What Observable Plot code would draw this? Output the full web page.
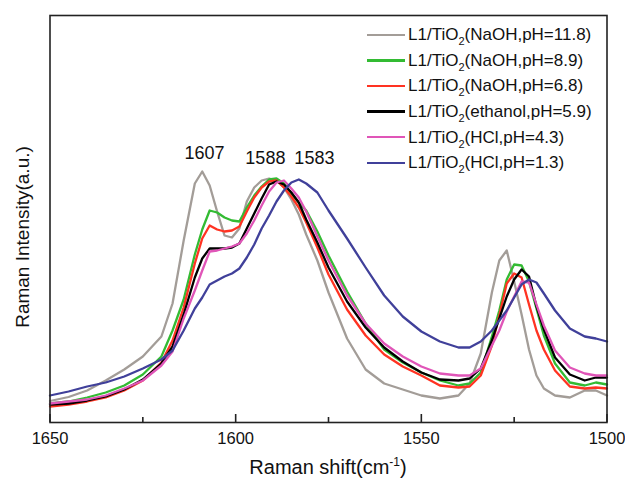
<!DOCTYPE html>
<html><head><meta charset="utf-8">
<script src="https://cdn.jsdelivr.net/npm/d3@7"></script>
<script src="https://cdn.jsdelivr.net/npm/@observablehq/plot@0.6"></script>
<style>
body{margin:0;background:#fff;font-family:"Liberation Sans",Arial,sans-serif;}
#wrap{position:relative;width:625px;height:483px;}
.legend{position:absolute;left:367px;top:22px;font-size:17px;color:#111;line-height:1;}
.legend .row{display:flex;align-items:center;height:25.6px;white-space:nowrap;}
.legend .sw{width:38px;height:2.5px;margin-right:3px;}
.legend sub{font-size:11px;vertical-align:-5px;line-height:0;}
.xt{position:absolute;left:49.5px;width:557px;top:457px;text-align:center;font-size:20px;color:#111;line-height:1;}
.xt sup{font-size:12px;vertical-align:8px;line-height:0;}
</style></head>
<body><div id="wrap"></div>
<script>
const wavenumber = [1650,1645,1640,1635,1630,1625,1620,1617,1614,1611,1609,1607,1605,1603,1601,1599,1597,1595,1593,1591,1589,1587,1585,1583,1581,1578,1575,1570,1565,1560,1555,1550,1545,1540,1537,1534,1531,1529,1527,1525,1523,1521,1519,1517,1514,1510,1506,1503,1500];
const naoh118 = [21.5,25.5,32,42,53,66,86,119,182,239,251,237,211,187,185,194,221,235,242,244,242,235,223,208,188,162,130,84,53,39,33,27,24,27,39,69,130,162,172,141,108,73,47,34,27,25,32,32,27];
const naoh89 = [19,21,25,30,37,48,66,92,123,168,193,212,210,205,202,201,215,227,236,243,244,239,229,220,212,191,167,131,99,73,60,50,42,37,39,50,86,112,143,158,157,141,114,87,59,40,37,40,38];
const naoh68 = [16,18,21,25,32,42,60,82,115,159,184,197,193,191,192,196,211,225,235,241,242,235,226,215,200,175,148,113,87,68,56,47,37,35,36,47,77,107,139,149,145,118,92,73,52,36,34,35,34];
const ethanol59 = [18,19,22,26,33,43,59,76,108,145,164,174,174,174,175,179,194,209,224,238,241,238,230,220,203,180,155,121,95,75,61,50,43,42,44,54,82,104,126,143,153,146,116,93,65,48,42,45,45];
const hcl43 = [19,21,23,27,34,42,57,71,104,132,152,171,172,174,176,179,189,202,217,231,240,242,234,225,211,186,162,127,99,79,66,56,49,47,47,54,77,92,111,126,141,140,118,97,72,55,49,47,47];
const hcl13 = [27,31,36,40,46,54,63,72,92,114,125,138,142,146,149,154,165,178,194,207,221,232,240,243,239,230,212,184,155,127,106,91,81,75,75,81,92,102,112,125,138,143,140,129,112,94,86,84,81];

const conditions = ["NaOH,pH=11.8","NaOH,pH=8.9","NaOH,pH=6.8","ethanol,pH=5.9","HCl,pH=4.3","HCl,pH=1.3"];
const seriesValues = [naoh118, naoh89, naoh68, ethanol59, hcl43, hcl13];
const colors = ["#a39d98","#33bb33","#ff3322","#000000","#e055b8","#40409a"];

const majorTicks = [1650,1600,1550,1500];
const minorTicks = [1625,1575,1525];
const peakLabels = ["1607","1588","1583"];
const peakLabelX = [1608.4,1592.0,1578.8];
const peakLabelY = [264,259,259];

const rows = [];
seriesValues.forEach((vals, s) => vals.forEach((v, i) => rows.push({series: conditions[s], x: wavenumber[i], y: v})));
const peaks = peakLabels.map((t, i) => ({text: t, x: peakLabelX[i], y: peakLabelY[i]}));

const font = '"Liberation Sans",Arial,sans-serif';
const chart = Plot.plot({
  width: 625, height: 483,
  marginLeft: 49.5, marginRight: 18.5, marginTop: 15, marginBottom: 61,
  style: {fontFamily: font, background: "#fff", color: "#111"},
  x: {domain: [1650, 1500], axis: null},
  y: {domain: [0, 407], axis: null},
  color: {domain: conditions, range: colors},
  marks: [
    Plot.lineY(rows, {x: "x", y: "y", z: "series", stroke: "series", strokeWidth: 2.3, strokeLinejoin: "round"}),
    Plot.frame({stroke: "#222", strokeWidth: 1.6}),
    Plot.ruleX(majorTicks, {x: d => d, y1: d => 0, y2: d => 8, stroke: "#222", strokeWidth: 1.6}),
    Plot.ruleX(minorTicks, {x: d => d, y1: d => 0, y2: d => 5, stroke: "#222", strokeWidth: 1.6}),
    Plot.axisX(majorTicks, {anchor: "bottom", tickSize: 0, tickPadding: 10, fontSize: 16.5, tickFormat: d => String(d), label: null}),
    Plot.text(peaks, {x: "x", y: "y", text: "text", fontSize: 18, lineAnchor: "bottom", fill: "#111"}),
    Plot.text(["Raman Intensity(a.u.)"], {frameAnchor: "left", textAnchor: "middle", rotate: -90, dx: -27.5, dy: 18, fontSize: 19, fill: "#111"})
  ]
});
const wrap = document.getElementById("wrap");
wrap.appendChild(chart);

const legend = document.createElement("div");
legend.className = "legend";
conditions.forEach((c, i) => {
  const row = document.createElement("div");
  row.className = "row";
  const sw = document.createElement("span");
  sw.className = "sw";
  sw.style.background = colors[i];
  const lab = document.createElement("span");
  lab.innerHTML = "L1/TiO<sub>2</sub>(" + c + ")";
  row.appendChild(sw); row.appendChild(lab);
  legend.appendChild(row);
});
wrap.appendChild(legend);

const xt = document.createElement("div");
xt.className = "xt";
xt.innerHTML = "Raman shift(cm<sup>-1</sup>)";
wrap.appendChild(xt);
</script>
</body></html>
